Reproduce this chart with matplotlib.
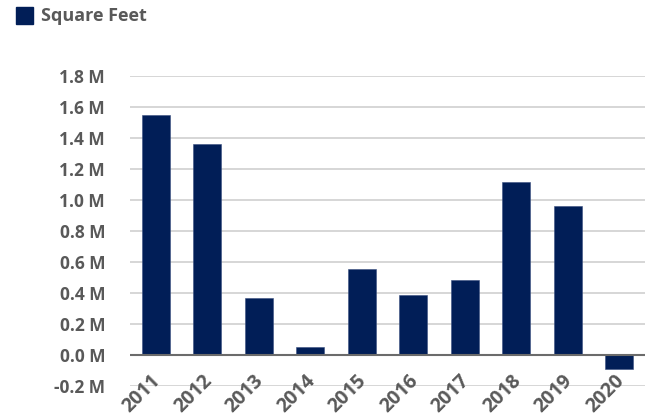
import numpy as np
import matplotlib.pyplot as plt
from matplotlib.patches import Rectangle

# data
years = ['2011', '2012', '2013', '2014', '2015', '2016', '2017', '2018', '2019', '2020']
sqft = [1.548, 1.361, 0.368, 0.054, 0.553, 0.389, 0.483, 1.116, 0.961, -0.092]  # millions
yticks = [-0.2, 0.0, 0.2, 0.4, 0.6, 0.8, 1.0, 1.2, 1.4, 1.6, 1.8]

navy = '#011E57'
txt = '#595959'

plt.rcParams['font.family'] = ['Open Sans', 'DejaVu Sans']
plt.rcParams['font.weight'] = 'bold'

fig = plt.figure(figsize=(6.5, 4.19), dpi=100)
ax = fig.add_axes([130 / 650, 1 - 386 / 419, 515 / 650, 310 / 419])

x = np.arange(len(years))
ax.bar(x, sqft, width=0.55, color=navy, edgecolor='#3a4f80', linewidth=0.4, zorder=3)

ax.set_ylim(-0.2, 1.8)
ax.set_xlim(-0.5, len(years) - 0.5)
ax.set_yticks(yticks)
ax.set_yticklabels([f'{v:.1f} M' for v in yticks])
ax.set_xticks(x)
ax.set_xticklabels([])

# rotated year labels sit over the -0.2 gridline, as in the original
for xi, yr in zip(x, years):
    ax.text(xi - 0.1, -0.1, yr, rotation=45, ha='right', va='top',
            rotation_mode='anchor', fontsize=14, color=txt, fontweight='bold',
            clip_on=False, zorder=5)

ax.grid(axis='y', color='#d0d0d0', linewidth=1.2, zorder=0)
ax.axhline(0, color='#6b6b6b', linewidth=1.5, zorder=4)
for s in ax.spines.values():
    s.set_visible(False)
ax.tick_params(axis='both', length=0, labelsize=12.5, labelcolor=txt)
ax.tick_params(axis='y', pad=18)

# legend
fig.patches.append(Rectangle((16 / 650, 1 - 24 / 419), 17 / 650, 17 / 419,
                             transform=fig.transFigure, color=navy))
fig.text(41 / 650, 1 - 16 / 419, 'Square Feet', fontsize=13, color=txt,
         fontweight='bold', va='center', ha='left')

plt.savefig('out.png', dpi=100)
